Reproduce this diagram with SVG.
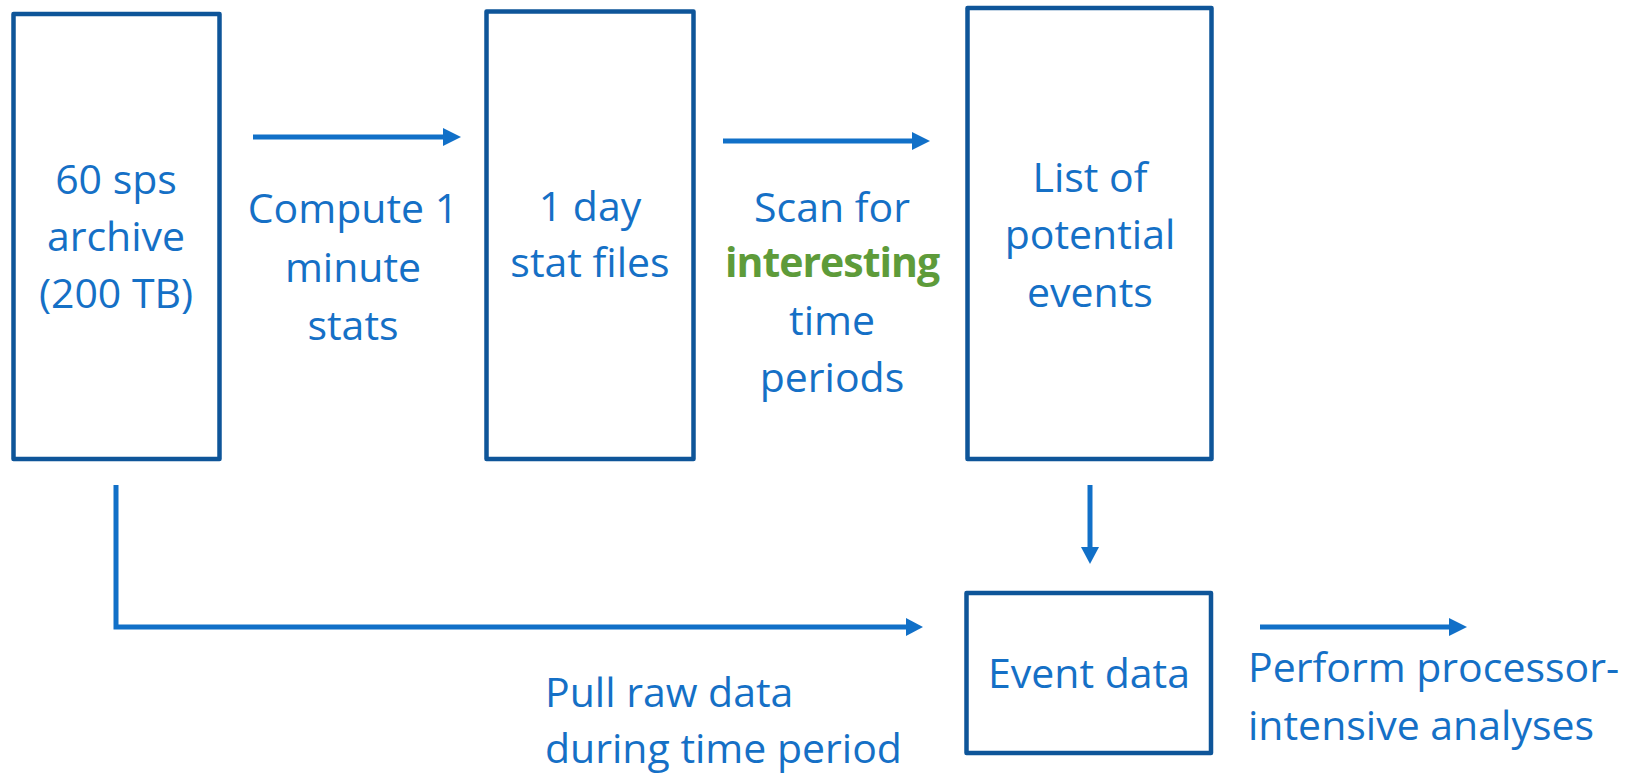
<svg xmlns="http://www.w3.org/2000/svg" width="1634" height="774" viewBox="0 0 1634 774">
<style>
.box{fill:#fff;stroke:#0E5599;stroke-width:4.5;stroke-linejoin:round}
.t{font-family:"Open Sans","Liberation Sans",sans-serif;font-size:41px;fill:#1570C6}
.c{text-anchor:middle}
.g{fill:#5E9B3A;font-weight:bold;letter-spacing:-1px}
.ln{stroke:#1170C8;stroke-width:5;fill:none}
.ah{fill:#1170C8}
</style>
<rect width="1634" height="774" fill="#fff"/>
<g id="connectors">
<line class="ln" x1="253" y1="137" x2="445" y2="137"/>
<polygon class="ah" points="443,128 461,137 443,146"/>
<line class="ln" x1="723" y1="141" x2="914" y2="141"/>
<polygon class="ah" points="912,132 930,141 912,150"/>
<polyline class="ln" points="116,485 116,627 908,627"/>
<polygon class="ah" points="906,618 923,627 906,636"/>
<line class="ln" x1="1090" y1="485" x2="1090" y2="549"/>
<polygon class="ah" points="1081,547 1090,564 1099,547"/>
<line class="ln" x1="1260" y1="627" x2="1451" y2="627"/>
<polygon class="ah" points="1449,618 1467,627 1449,636"/>
</g>
<g id="archive">
<rect class="box" x="13.5" y="14" width="206" height="445"/>
<text class="t c" x="116" y="194">60 sps</text>
<text class="t c" x="116" y="251">archive</text>
<text class="t c" x="116" y="308">(200 TB)</text>
</g>
<g id="label-compute">
<text class="t c" x="353" y="223">Compute 1</text>
<text class="t c" x="353" y="282">minute</text>
<text class="t c" x="353" y="340">stats</text>
</g>
<g id="statfiles">
<rect class="box" x="486.5" y="11.5" width="207" height="447.5"/>
<text class="t c" x="590" y="221">1 day</text>
<text class="t c" x="590" y="277">stat files</text>
</g>
<g id="label-scan">
<text class="t c" x="832" y="222">Scan for</text>
<text class="t c g" x="832" y="277">interesting</text>
<text class="t c" x="832" y="335">time</text>
<text class="t c" x="832" y="392">periods</text>
</g>
<g id="events">
<rect class="box" x="967.5" y="8" width="244" height="451"/>
<text class="t c" x="1090" y="192">List of</text>
<text class="t c" x="1090" y="249">potential</text>
<text class="t c" x="1090" y="307">events</text>
</g>
<g id="label-pull">
<text class="t" x="545" y="707">Pull raw data</text>
<text class="t" x="545" y="763">during time period</text>
</g>
<g id="eventdata">
<rect class="box" x="966.5" y="593" width="244.5" height="160"/>
<text class="t c" x="1089" y="688">Event data</text>
</g>
<g id="label-perform">
<text class="t" x="1248" y="682">Perform processor-</text>
<text class="t" x="1248" y="740">intensive analyses</text>
</g>
</svg>
